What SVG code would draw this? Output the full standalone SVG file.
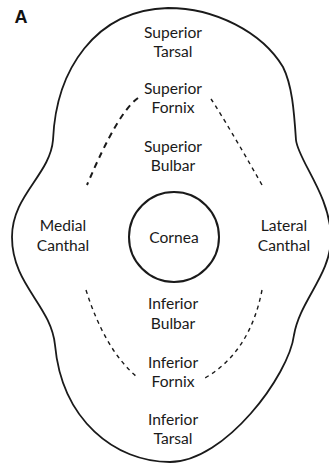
<svg xmlns="http://www.w3.org/2000/svg" width="329" height="463" viewBox="0 0 329 463">
<style>
.t{font-family:Lato,"Open Sans","Liberation Sans",sans-serif;font-size:15.6px;fill:#1a1a1a;text-anchor:middle}
.o{fill:none;stroke:#1a1a1a;stroke-width:1.8}
.d1{fill:none;stroke:#1a1a1a;stroke-width:2;stroke-dasharray:6 5}
.d2{fill:none;stroke:#1a1a1a;stroke-width:1.4;stroke-dasharray:4 4}
</style>
<rect width="329" height="463" fill="#fff"/>
<text x="14.5" y="23" style="font-family:'Liberation Sans',Arial,sans-serif;font-size:18px;font-weight:bold;fill:#111">A</text>
<g id="outline">
<path class="o" d="M168,8 C215,8 262,32 283,67 C292,85 294,110 296,140 C298,160 330,195 331,237 C331,275 300,300 294,335 C289,375 225,462 170,462 C115,462 62,420 55,345 C51,305 12,285 12,237 C12,195 50,175 53,140 C56,70 95,10 168,8 Z"/>
</g>
<g id="connectors">
<path class="d1" d="M138,98 Q118,112 87,185"/>
<path class="d2" d="M211,99 Q228,125 262,185"/>
<path class="d2" d="M86,290 Q105,350 137,377"/>
<path class="d2" d="M262,290 Q250,352 205,378"/>
</g>
<g id="cornea">
<circle cx="174" cy="237" r="45" fill="none" stroke="#1a1a1a" stroke-width="2"/>
<text class="t" x="174" y="243">Cornea</text>
</g>
<g id="superior-tarsal"><text class="t" x="173" y="38">Superior</text><text class="t" x="173" y="57">Tarsal</text></g>
<g id="superior-fornix"><text class="t" x="173" y="94">Superior</text><text class="t" x="173" y="113">Fornix</text></g>
<g id="superior-bulbar"><text class="t" x="173" y="152">Superior</text><text class="t" x="173" y="171">Bulbar</text></g>
<g id="medial-canthal"><text class="t" x="63" y="231">Medial</text><text class="t" x="63" y="251">Canthal</text></g>
<g id="lateral-canthal"><text class="t" x="284" y="231">Lateral</text><text class="t" x="284" y="251">Canthal</text></g>
<g id="inferior-bulbar"><text class="t" x="173" y="309">Inferior</text><text class="t" x="173" y="329">Bulbar</text></g>
<g id="inferior-fornix"><text class="t" x="173" y="368">Inferior</text><text class="t" x="173" y="387">Fornix</text></g>
<g id="inferior-tarsal"><text class="t" x="173" y="425">Inferior</text><text class="t" x="173" y="444">Tarsal</text></g>
</svg>
